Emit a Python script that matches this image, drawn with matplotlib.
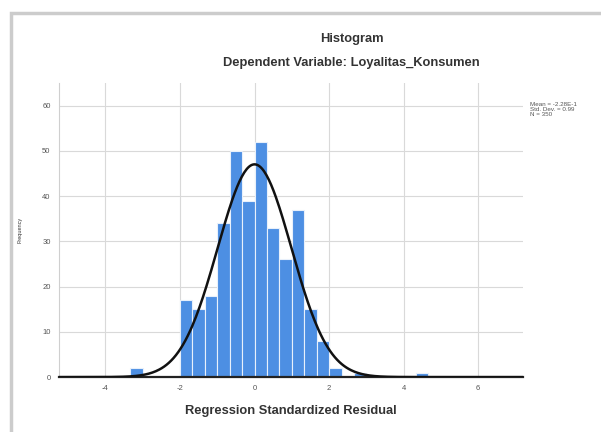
import numpy as np
import matplotlib.pyplot as plt
from matplotlib.patches import Rectangle

plt.rcParams['font.family'] = ['Liberation Sans', 'DejaVu Sans']
plt.rcParams['axes.unicode_minus'] = False

# Histogram bins (left edges) and counts
bin_width = 1 / 3
bin_left = [-10/3, -2, -5/3, -4/3, -1, -2/3, -1/3, 0, 1/3, 2/3, 1, 4/3, 5/3, 2, 8/3, 13/3]
counts = [2, 17, 15, 18, 34, 50, 39, 52, 33, 26, 37, 15, 8, 2, 1, 1]

mean = -2.28e-16
std = 0.99
n = 350

x_ticks = [-4, -2, 0, 2, 4, 6]
y_ticks = [0, 10, 20, 30, 40, 50, 60]

fig = plt.figure(figsize=(6.01, 4.32), dpi=100)
ax = fig.add_axes([0.098, 0.127, 0.772, 0.681])

# screenshot frame
fig.patches.append(Rectangle((0.018, -0.05), 1.1, 1.02, transform=fig.transFigure,
                             fill=False, edgecolor='#cccccc', linewidth=2.5))

ax.bar(bin_left, counts, width=bin_width, align='edge', color='#4d8fe3',
       edgecolor='#e8f0fb', linewidth=0.8, zorder=2)

xs = np.linspace(-5.3, 7.3, 400)
pdf = n * bin_width / (std * np.sqrt(2 * np.pi)) * np.exp(-0.5 * ((xs - mean) / std) ** 2)
ax.plot(xs, pdf, color='#111111', linewidth=1.8, zorder=3)

ax.set_xlim(-5.25, 7.2)
ax.set_ylim(0, 65)
ax.set_xticks(x_ticks)
ax.set_yticks(y_ticks)
ax.tick_params(length=0, labelsize=5.5, labelcolor='#555555', pad=6)
ax.grid(True, color='#d9d9d9', linewidth=0.8, zorder=0)
ax.set_axisbelow(True)
for s in ['top', 'right']:
    ax.spines[s].set_visible(False)
ax.spines['left'].set_color('#cfcfcf')
ax.spines['bottom'].set_color('#222222')
ax.spines['bottom'].set_linewidth(1.6)

ax.set_xlabel('Regression Standardized Residual', fontsize=9.3, fontweight='bold',
              color='#333333', labelpad=9)
ax.set_ylabel('Frequency', fontsize=4, color='#333333', labelpad=14)

fig.text(0.585, 0.903, 'Histogram', ha='center', fontsize=9.3, fontweight='bold', color='#333333')
fig.text(0.585, 0.848, 'Dependent Variable: Loyalitas_Konsumen', ha='center', fontsize=9.3,
         fontweight='bold', color='#333333')
fig.text(0.882, 0.73, 'Mean = -2.28E-1\nStd. Dev. = 0.99\nN = 350', fontsize=4.5,
         color='#555555', va='bottom', linespacing=1.0)

plt.savefig('out.png', dpi=100)
